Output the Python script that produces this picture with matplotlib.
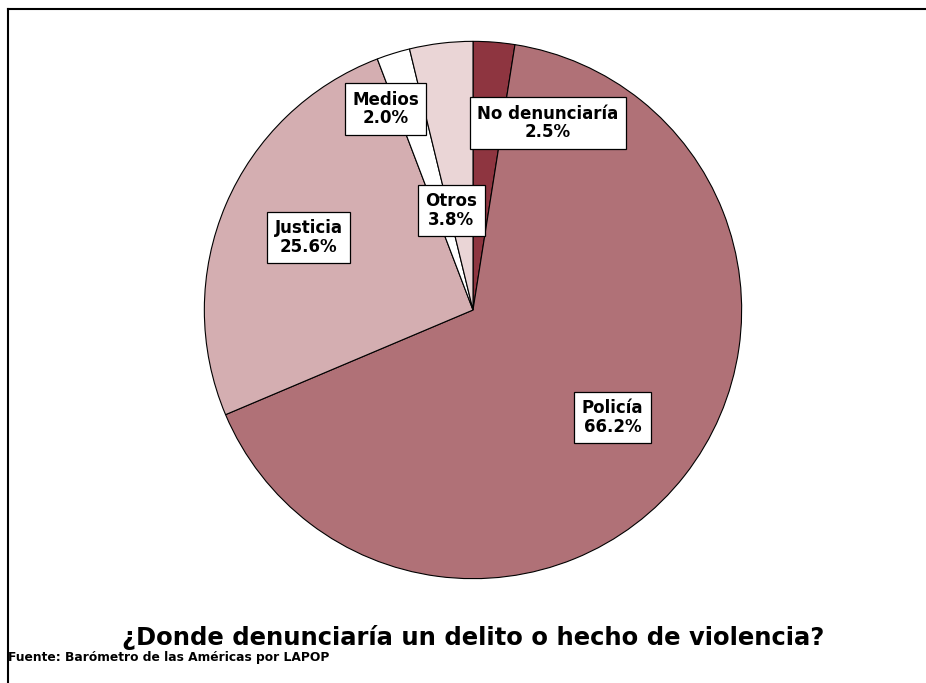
import matplotlib
matplotlib.use("Agg")
import matplotlib.pyplot as plt
from matplotlib.lines import Line2D

categories = ["No denunciaría", "Policía", "Justicia", "Medios", "Otros"]
values = [2.5, 66.2, 25.6, 2.0, 3.8]
colors = ["#8E3540", "#B07177", "#D4AEB1", "#FFFFFF", "#EAD5D6"]
# label box centres in pie data units (layout)
label_pos = [(0.278, 0.696), (0.519, -0.400), (-0.611, 0.270), (-0.326, 0.748), (-0.081, 0.370)]

title = "¿Donde denunciaría un delito o hecho de violencia?"
source = "Fuente: Barómetro de las Américas por LAPOP"

plt.rcParams['font.family'] = ['DejaVu Sans']

W, H = 926, 683
fig = plt.figure(figsize=(W / 100, H / 100), dpi=100)
fig.patch.set_facecolor("white")

cx, cy, r = 473, 310, 270
ax = fig.add_axes([(cx - r) / W, (H - cy - r) / H, 2 * r / W, 2 * r / H])
ax.pie(values, colors=colors, startangle=90, counterclock=False, radius=1,
       wedgeprops=dict(edgecolor="black", linewidth=0.8))
ax.set_xlim(-1.005, 1.005)
ax.set_ylim(-1.005, 1.005)
ax.set_aspect("equal")
ax.axis("off")

for cat, val, (x, y) in zip(categories, values, label_pos):
    ax.text(x, y, f"{cat}\n{val:.1f}%", ha="center", va="center",
            fontsize=12, fontweight="bold", linespacing=1.05,
            bbox=dict(boxstyle="square,pad=0.45", facecolor="white",
                      edgecolor="black", linewidth=0.9))

fig.text(473 / W, 1 - 637 / H, title, ha="center", va="center",
         fontsize=17.5, fontweight="bold")
fig.text(8 / W, 1 - 657 / H, source, ha="left", va="center",
         fontsize=8.8, fontweight="bold")

# outer frame (top and left edges visible)
fig.add_artist(Line2D([8 / W, 1.0], [1 - 9 / H, 1 - 9 / H], transform=fig.transFigure,
                      color="black", linewidth=1.5))
fig.add_artist(Line2D([8 / W, 8 / W], [0.0, 1 - 9 / H], transform=fig.transFigure,
                      color="black", linewidth=1.5))

fig.savefig("out.png", dpi=100, facecolor="white")
